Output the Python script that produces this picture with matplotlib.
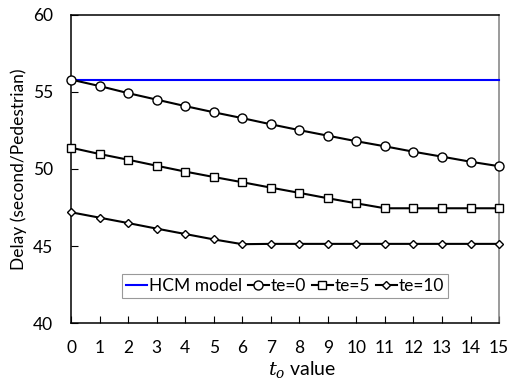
import matplotlib
matplotlib.use("Agg")
import matplotlib.pyplot as plt

plt.rcParams['font.family'] = ['Lato', 'DejaVu Sans']
plt.rcParams['mathtext.fontset'] = 'dejavuserif'

x = list(range(16))
hcm = [55.8] * 16
te0 = [55.8, 55.38, 54.92, 54.5, 54.08, 53.68, 53.3, 52.9, 52.52, 52.16, 51.8, 51.47, 51.12, 50.8, 50.47, 50.18]
te5 = [51.38, 50.97, 50.6, 50.21, 49.83, 49.48, 49.14, 48.79, 48.45, 48.1, 47.77, 47.45, 47.45, 47.45, 47.45, 47.45]
te10 = [47.19, 46.84, 46.49, 46.13, 45.78, 45.43, 45.12, 45.14, 45.14, 45.14, 45.14, 45.14, 45.14, 45.14, 45.14, 45.14]

fig = plt.figure(figsize=(5.15, 3.81), dpi=100)
ax = fig.add_axes([0.138, 0.152, 0.831, 0.809])

ax.plot(x, hcm, color='#0000ff', lw=1.5, label='HCM model', clip_on=False, zorder=3)
mk = dict(color='black', lw=1.5, mfc='white', mec='black', mew=1.0, clip_on=False, zorder=4)
ax.plot(x, te0, marker='o', ms=6.5, label='te=0', **mk)
ax.plot(x, te5, marker='s', ms=5.5, label='te=5', **mk)
ax.plot(x, te10, marker='D', ms=4.5, label='te=10', **mk)

ax.set_xlim(0, 15)
ax.set_ylim(40, 60)
ax.set_xticks(x)
ax.set_yticks([40, 45, 50, 55, 60])
ax.tick_params(axis='x', direction='in', length=5, width=0.8, labelsize=12.5, pad=12)
ax.tick_params(axis='y', direction='in', length=5, width=0.8, labelsize=12.5, pad=13)
ax.spines['right'].set_color('#808080')
ax.spines['top'].set_color('black')
for s in ax.spines.values():
    s.set_linewidth(1.1)

ax.set_xlabel(r'$t_o$ value', fontsize=14, labelpad=1)
ax.xaxis.set_label_coords(0.54, -0.115)
ax.set_ylabel('Delay (second/Pedestrian)', fontsize=12.5, labelpad=4)

leg = ax.legend(loc='lower center', bbox_to_anchor=(0.5, 0.08), ncol=4, fontsize=12.5,
                frameon=True, fancybox=False, handlelength=1.2, handletextpad=0.1,
                columnspacing=0.35, borderpad=0.25, borderaxespad=0)
leg.get_frame().set_edgecolor('#808080')
leg.get_frame().set_linewidth(0.8)

fig.savefig('out.png', dpi=100)
